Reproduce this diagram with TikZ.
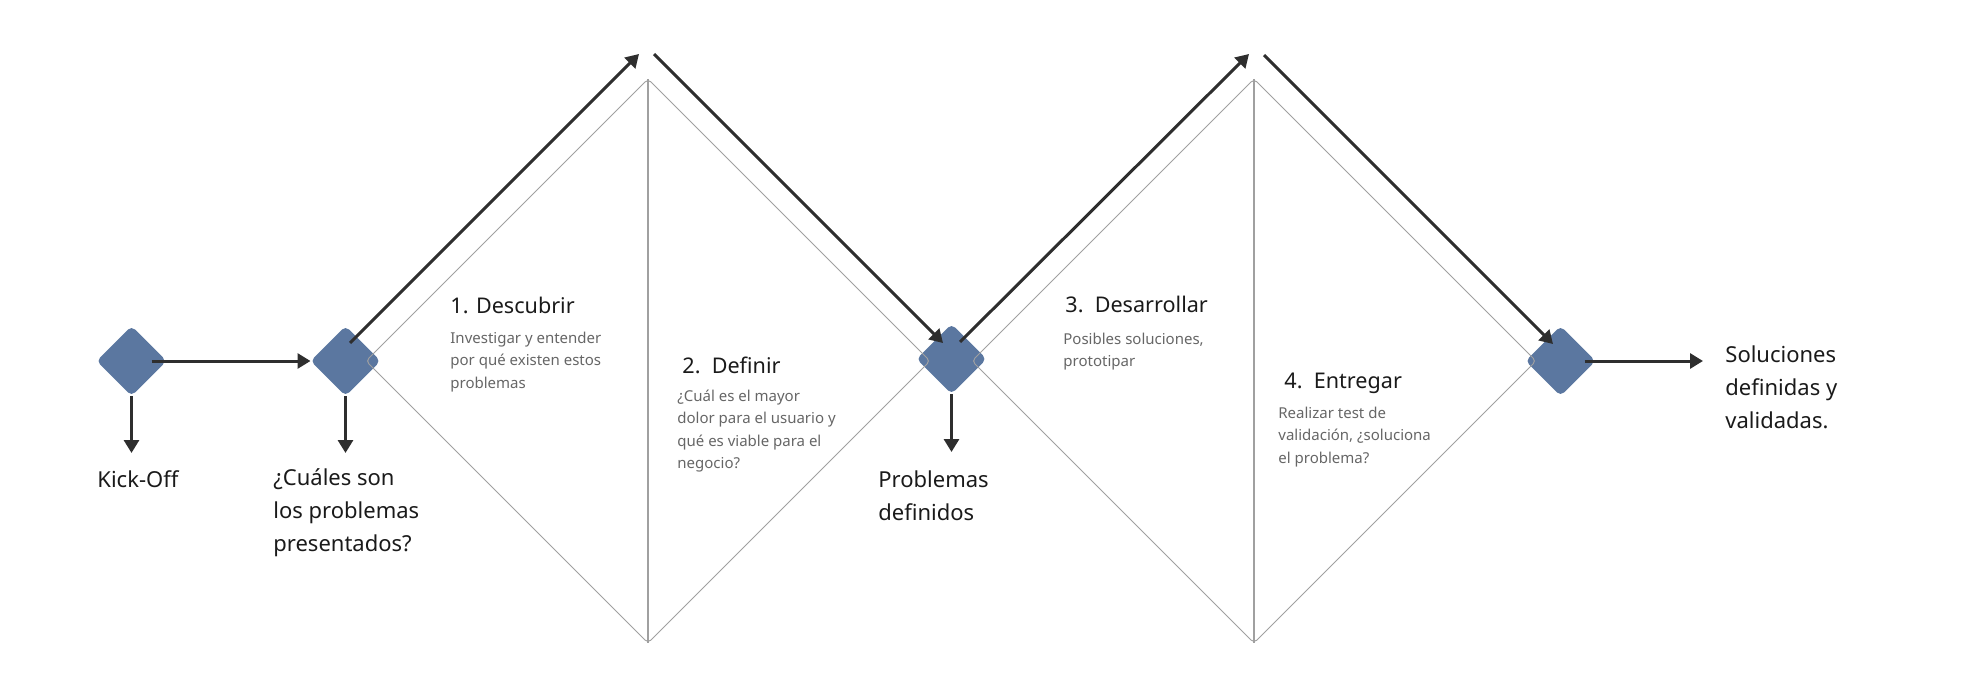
\documentclass[tikz,border=0pt]{standalone}
\usepackage{fontspec}
\setmainfont{Noto Sans}
\usetikzlibrary{arrows.meta,shapes.geometric}
\definecolor{stepblue}{HTML}{5B77A0}
\definecolor{ink}{HTML}{1A1A1A}
\definecolor{arrowink}{HTML}{2E2E2E}
\definecolor{mutedink}{HTML}{666666}
\definecolor{linegray}{HTML}{A0A0A0}
\tikzset{
  milestone/.style={
    diamond,
    aspect=1,
    fill=stepblue,
    rounded corners=2.5pt,
    minimum width=35pt,
    minimum height=35pt,
    inner sep=0pt,
    outer sep=0pt
  },
  phase/.style={
    diamond,
    aspect=1,
    draw=linegray,
    line width=0.5pt,
    rounded corners=2pt,
    minimum width=282pt,
    minimum height=282pt,
    inner sep=0pt,
    outer sep=0pt
  },
  divider/.style={draw=linegray,line width=0.6pt},
  flow/.style={-{Triangle[length=6.5pt,width=7.5pt]},line width=1.5pt,draw=arrowink},
  % multi-line texts sit on the baseline of their last line
  outcome/.style={anchor=base west,align=left,inner sep=0pt,text=ink,
    font=\fontsize{11}{16.5}\selectfont},
  phase title/.style={anchor=base west,inner sep=0pt,text=ink,
    font=\fontsize{10.8}{13}\selectfont},
  phase note/.style={anchor=base west,align=left,inner sep=0pt,text=mutedink,
    font=\fontsize{7.5}{11.25}\selectfont}
}

\begin{document}
\begin{tikzpicture}[x=0.5pt,y=-0.5pt]
  \useasboundingbox (0,0) rectangle (1980,700);

  \node[milestone] (kickoff) at (131.5,361) {};
  \node[milestone] (discover) at (345.5,361) {};
  \node[milestone] (define) at (951.5,359) {};
  \node[milestone] (deliver) at (1560.5,361) {};

  \node[phase] (diverge1) at (648,361) {};
  \node[phase] (diverge2) at (1254,361) {};
  \draw[divider] (diverge1.north) -- (diverge1.south);
  \draw[divider] (diverge2.north) -- (diverge2.south);

  \coordinate (peak1in) at (639,54);
  \coordinate (peak1out) at (654,54);
  \coordinate (peak2in) at (1249,54);
  \coordinate (peak2out) at (1264,55);
  \coordinate (kickoffout) at (131.5,453);
  \coordinate (discoverout) at (345.5,453);
  \coordinate (defineout) at (951.5,452);
  \coordinate (deliverout) at (1703,361);

  \draw[flow] ([xshift=10pt]kickoff.center) -- (discover.west);
  \draw[flow] (kickoff.south) -- (kickoffout);
  \draw[flow] (discover.south) -- (discoverout);
  \draw[flow] (define.south) -- (defineout);
  \draw[flow] ([xshift=12pt]deliver.center) -- (deliverout);

  \draw[flow] ([shift={(2.25pt,9pt)}]discover.center) -- (peak1in);
  \draw[flow] (peak1out) -- ([shift={(-4.25pt,8pt)}]define.center);
  \draw[flow] ([shift={(4.25pt,8.5pt)}]define.center) -- (peak2in);
  \draw[flow] (peak2out) -- ([shift={(-3.75pt,8.5pt)}]deliver.center);

  \node[outcome] (kicklabel) at (97,487) {Kick-Off};
  \node[outcome] (questionlabel) at (273,551) {¿Cuáles son\\los problemas\\presentados?};
  \node[outcome] (problemslabel) at (878,520) {Problemas\\definidos};
  \node[outcome] (solutionslabel) at (1725,428) {Soluciones\\definidas y\\validadas.};

  \node[phase title] (title1) at (450,314) {1. Descubrir};
  \node[phase note] (note1) at (450,388)
    {Investigar y entender\\por qué existen estos\\problemas};
  \node[phase title] (title2) at (682,373) {2.\ \ Definir};
  \node[phase note] (note2) at (677,468.5)
    {¿Cuál es el mayor\\dolor para el usuario y\\qué es viable para el\\negocio?};
  \node[phase title] (title3) at (1065,313) {3.\ \ Desarrollar};
  \node[phase note] (note3) at (1063,366.5) {Posibles soluciones,\\prototipar};
  \node[phase title] (title4) at (1284,388) {4.\ \ Entregar};
  \node[phase note] (note4) at (1278,463)
    {Realizar test de\\validación, ¿soluciona\\el problema?};
\end{tikzpicture}
\end{document}
